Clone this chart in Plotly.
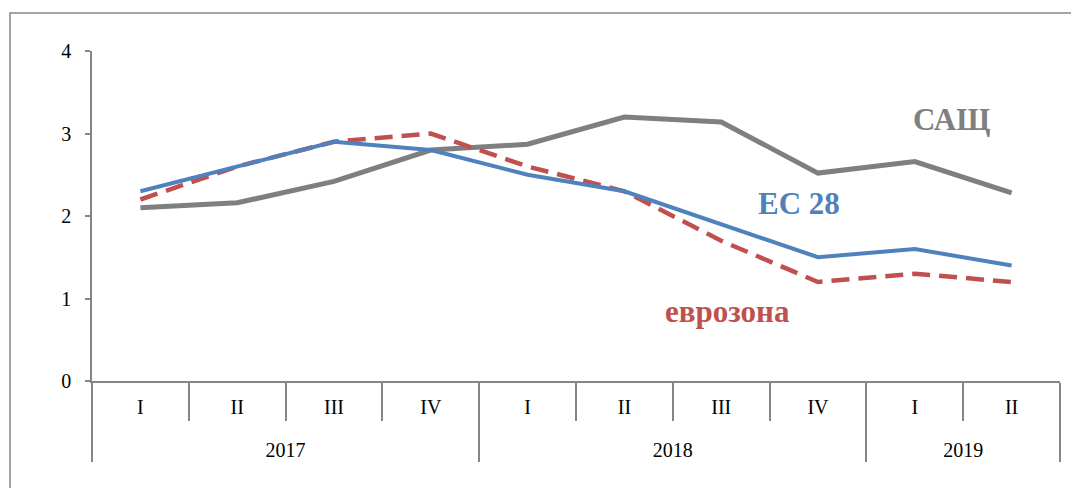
import plotly.graph_objects as go

years = ["2017"] * 4 + ["2018"] * 4 + ["2019"] * 2
quarters = ["I", "II", "III", "IV", "I", "II", "III", "IV", "I", "II"]

usa = [2.1, 2.16, 2.42, 2.8, 2.87, 3.2, 3.14, 2.52, 2.66, 2.28]
eu28 = [2.3, 2.6, 2.9, 2.8, 2.5, 2.3, 1.9, 1.5, 1.6, 1.4]
eurozone = [2.2, 2.6, 2.9, 3.0, 2.6, 2.3, 1.7, 1.2, 1.3, 1.2]

# page body has an 8px margin, so page pixels are shifted by OFF
OFF = 8
W, H = 1079 - OFF, 488 - OFF
L, T = 92 - OFF, 51 - OFF
R = W - (1060 - OFF)
B = H - (381.5 - OFF)
pw, ph = W - L - R, H - T - B

def px_x(p):
    return (p - OFF - L) / pw

def px_y(p):
    return (H - B - (p - OFF)) / ph

axis_col = "#868686"
font = "Liberation Serif"

# empty first line pushes the year row down under the quarter row
year_lbl = ["<br>" + y for y in years]

fig = go.Figure()
fig.add_trace(go.Scatter(x=[year_lbl, quarters], y=usa, mode="lines", name="САЩ",
                         line=dict(color="#7f7f7f", width=5)))
fig.add_trace(go.Scatter(x=[year_lbl, quarters], y=eurozone, mode="lines", name="еврозона",
                         line=dict(color="#c0504d", width=4.5, dash="18px,9px")))
fig.add_trace(go.Scatter(x=[year_lbl, quarters], y=eu28, mode="lines", name="ЕС 28",
                         line=dict(color="#4f81bd", width=4)))

labels = [("САЩ", 951, 120, "#7f7f7f"), ("ЕС 28", 799, 204, "#4f81bd"),
          ("еврозона", 727, 312, "#c0504d")]
for txt, lx, ly, col in labels:
    fig.add_annotation(x=px_x(lx), y=px_y(ly), xref="paper", yref="paper",
                       xanchor="center", yanchor="middle", text=txt,
                       showarrow=False,
                       font=dict(family=font, size=31, color=col, weight="bold"))

# outer frame
fig.add_shape(type="rect", xref="paper", yref="paper",
              x0=px_x(10), x1=px_x(1095), y0=px_y(510), y1=px_y(13),
              line=dict(color=axis_col, width=1.5))

fig.update_layout(
    width=W, height=H,
    margin=dict(l=L, r=R, t=T, b=B),
    paper_bgcolor="white", plot_bgcolor="white",
    showlegend=False,
    font=dict(family=font, size=20, color="black"),
    xaxis=dict(type="multicategory", range=[-0.5, 9.5], showline=True,
               linecolor=axis_col, linewidth=1.5,
               ticks="outside", tickson="boundaries", ticklen=38, tickcolor=axis_col,
               tickwidth=1.5, ticklabelstandoff=7, showdividers=True,
               dividercolor=axis_col, dividerwidth=1.5, showgrid=False, zeroline=False,
               tickfont=dict(size=20)),
    yaxis=dict(range=[0, 4], dtick=1, showline=True, linecolor=axis_col, linewidth=1.5,
               ticks="outside", ticklen=5, tickcolor=axis_col, tickwidth=1.5,
               ticklabelstandoff=10, showgrid=False, zeroline=False,
               tickfont=dict(size=20)),
)

fig.write_html("out.html")
